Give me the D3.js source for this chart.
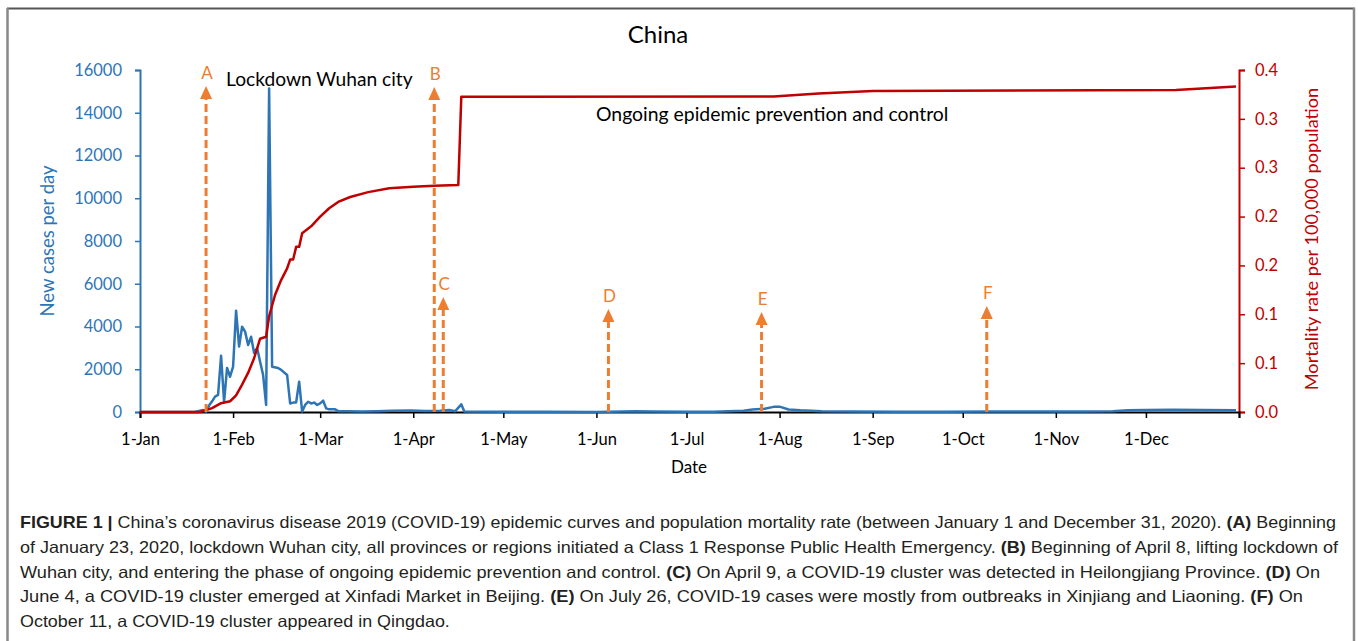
<!DOCTYPE html>
<html>
<head>
<meta charset="utf-8">
<script src="https://cdn.jsdelivr.net/npm/d3@7/dist/d3.min.js"></script>
<style>
  html, body { margin: 0; padding: 0; background: #fff; }
  svg { display: block; }
</style>
</head>
<body>
<svg id="chart" width="1358" height="641"></svg>
<script>
// ---------------- DATA ----------------
const title = "China";
const monthTicks = ["2020-01-01","2020-02-01","2020-03-01","2020-04-01","2020-05-01","2020-06-01",
                    "2020-07-01","2020-08-01","2020-09-01","2020-10-01","2020-11-01","2020-12-01"];
const monthLabels = ["1-Jan","1-Feb","1-Mar","1-Apr","1-May","1-Jun","1-Jul","1-Aug","1-Sep","1-Oct","1-Nov","1-Dec"];
const leftTicks = [0,2000,4000,6000,8000,10000,12000,14000,16000];
const rightTicks = [0,0.05,0.10,0.15,0.20,0.25,0.30,0.35];
const rightTickLabels = ["0.0","0.1","0.1","0.2","0.2","0.3","0.3","0.4"];

// New cases per day
const caseDates = ["2020-01-01","2020-01-19","2020-01-20","2020-01-21","2020-01-22","2020-01-23","2020-01-24","2020-01-25",
  "2020-01-26","2020-01-27","2020-01-28","2020-01-29","2020-01-30","2020-01-31","2020-02-01","2020-02-02","2020-02-03",
  "2020-02-04","2020-02-05","2020-02-06","2020-02-07","2020-02-08","2020-02-09","2020-02-10","2020-02-11","2020-02-12",
  "2020-02-13","2020-02-14","2020-02-16","2020-02-17","2020-02-19","2020-02-20","2020-02-21","2020-02-22","2020-02-23",
  "2020-02-24","2020-02-25","2020-02-26","2020-02-27","2020-02-28","2020-02-29","2020-03-01","2020-03-02","2020-03-03",
  "2020-03-04","2020-03-06","2020-03-07","2020-03-10","2020-03-15","2020-03-20","2020-03-25","2020-03-31","2020-04-05",
  "2020-04-10","2020-04-13","2020-04-15","2020-04-17","2020-04-18","2020-05-01","2020-05-15","2020-06-01","2020-06-14",
  "2020-06-20","2020-07-01","2020-07-10","2020-07-15","2020-07-20","2020-07-23","2020-07-27","2020-07-30","2020-08-01",
  "2020-08-04","2020-08-08","2020-08-15","2020-08-25","2020-09-10","2020-09-25","2020-10-10","2020-10-25","2020-11-10",
  "2020-11-20","2020-11-25","2020-12-01","2020-12-10","2020-12-20","2020-12-31"];
const caseValues = [0,0,30,60,90,20,300,500,
  720,800,2630,480,2060,1650,2120,4740,3060,
  3990,3760,3130,3520,2760,2990,2350,1730,330,
  15140,2120,2060,1970,1730,400,440,450,1420,
  20,330,480,400,440,330,400,530,170,
  125,125,40,30,20,40,60,70,50,
  60,90,40,360,20,10,10,5,40,
  25,10,15,30,60,120,150,240,250,
  120,80,40,20,10,15,20,25,20,
  40,80,90,100,90,80];

// Mortality rate per 100,000 population
const mortDates = ["2020-01-01","2020-01-21","2020-01-25","2020-01-28","2020-01-31","2020-02-02","2020-02-04","2020-02-06",
  "2020-02-08","2020-02-10","2020-02-12","2020-02-13","2020-02-15","2020-02-17","2020-02-19","2020-02-20","2020-02-21",
  "2020-02-22","2020-02-23","2020-02-24","2020-02-27","2020-03-01","2020-03-04","2020-03-07","2020-03-11","2020-03-17",
  "2020-03-24","2020-04-01","2020-04-08","2020-04-16","2020-04-17","2020-07-30","2020-08-14","2020-09-01","2020-12-11",
  "2020-12-31"];
const mortValues = [0,0,0.004,0.009,0.011,0.017,0.028,0.040,
  0.055,0.075,0.077,0.098,0.120,0.135,0.147,0.156,0.156,
  0.169,0.169,0.183,0.190,0.200,0.2085,0.215,0.220,0.225,
  0.229,0.2306,0.2316,0.2323,0.3225,0.3228,0.326,0.3285,0.3295,
  0.333];

// Event arrows
const eventLabels = ["A","B","C","D","E","F"];
const eventDates = ["2020-01-23","2020-04-08","2020-04-11","2020-06-05","2020-07-26","2020-10-09"];
const eventTops = [15250,15200,5380,4820,4680,4960]; // in new-cases units

const annotations = ["Lockdown Wuhan city","Ongoing epidemic prevention and control"];
const captionLines = [
  [["FIGURE 1 | ",true],["China’s coronavirus disease 2019 (COVID-19) epidemic curves and population mortality rate (between January 1 and December 31, 2020). ",false],["(A)",true],[" Beginning",false]],
  [["of January 23, 2020, lockdown Wuhan city, all provinces or regions initiated a Class 1 Response Public Health Emergency. ",false],["(B)",true],[" Beginning of April 8, lifting lockdown of",false]],
  [["Wuhan city, and entering the phase of ongoing epidemic prevention and control. ",false],["(C)",true],[" On April 9, a COVID-19 cluster was detected in Heilongjiang Province. ",false],["(D)",true],[" On",false]],
  [["June 4, a COVID-19 cluster emerged at Xinfadi Market in Beijing. ",false],["(E)",true],[" On July 26, COVID-19 cases were mostly from outbreaks in Xinjiang and Liaoning. ",false],["(F)",true],[" On",false]],
  [["October 11, a COVID-19 cluster appeared in Qingdao.",false]]
];
const captionWidths = [1316,1318,1300,1283,null];

// ---------------- DRAW ----------------
const svg = d3.select("#chart");
const parse = d3.utcParse("%Y-%m-%d");
const blue = "#2E75B6", red = "#C00000", orange = "#ED7D31";
const chartFont = "Lato, 'Open Sans', sans-serif";

const x = d3.scaleUtc().domain([parse("2020-01-01"), parse("2021-01-01")]).range([140, 1239]);
const yL = d3.scaleLinear().domain([0, 16000]).range([412, 70]);
const yR = d3.scaleLinear().domain([0, 0.35]).range([412, 70]);

// Frame
svg.append("line").attr("x1",7).attr("x2",1355).attr("y1",8.5).attr("y2",8.5).attr("stroke","#555").attr("stroke-width",2);
svg.append("line").attr("x1",7.5).attr("x2",7.5).attr("y1",8).attr("y2",641).attr("stroke","#888").attr("stroke-width",2.5);
svg.append("line").attr("x1",1354).attr("x2",1354).attr("y1",8).attr("y2",641).attr("stroke","#888").attr("stroke-width",2.5);

// Title
svg.append("text").attr("x",658).attr("y",43).attr("text-anchor","middle")
  .attr("font-family",chartFont).attr("font-size",24).attr("fill","#000").text(title);

// Left axis
const gL = svg.append("g").attr("transform","translate(140,0)")
  .call(d3.axisLeft(yL).tickValues(leftTicks).tickFormat(d3.format("d")).tickSize(5).tickPadding(13));
gL.select(".domain").attr("stroke",blue).attr("stroke-width",2);
gL.selectAll(".tick line").attr("stroke",blue).attr("stroke-width",1.5);
gL.selectAll(".tick text").attr("fill",blue).attr("font-family",chartFont).attr("font-size",16.5);

// Right axis
const gR = svg.append("g").attr("transform","translate(1239,0)")
  .call(d3.axisRight(yR).tickValues(rightTicks).tickFormat((d,i)=>rightTickLabels[i]).tickSize(6).tickPadding(10));
gR.select(".domain").attr("stroke",red).attr("stroke-width",2);
gR.selectAll(".tick line").attr("stroke",red).attr("stroke-width",1.5);
gR.selectAll(".tick text").attr("fill",red).attr("font-family",chartFont).attr("font-size",16.5);

// Bottom axis
const gB = svg.append("g").attr("transform","translate(0,412)")
  .call(d3.axisBottom(x).tickValues(monthTicks.map(parse).concat([parse("2021-01-01")]))
    .tickFormat((d,i)=> i < monthLabels.length ? monthLabels[i] : "").tickSize(6).tickPadding(15));
gB.select(".domain").attr("stroke","#000").attr("stroke-width",2);
gB.selectAll(".tick line").attr("stroke","#000").attr("stroke-width",1.5);
gB.selectAll(".tick text").attr("fill","#000").attr("font-family",chartFont).attr("font-size",16.5);

// Axis titles
svg.append("text").attr("transform","translate(54,241) rotate(-90)").attr("text-anchor","middle")
  .attr("font-family",chartFont).attr("font-size",18.5).attr("fill",blue).text("New cases per day");
svg.append("text").attr("transform","translate(1318,239) rotate(-90)").attr("text-anchor","middle")
  .attr("font-family",chartFont).attr("font-size",18.2).attr("fill",red).text("Mortality rate per 100,000 population");
svg.append("text").attr("x",689).attr("y",473).attr("text-anchor","middle")
  .attr("font-family",chartFont).attr("font-size",17).attr("fill","#000").text("Date");

// Lines
const casePts = caseDates.map((d,i)=>({date:parse(d), v:caseValues[i]}));
const mortPts = mortDates.map((d,i)=>({date:parse(d), v:mortValues[i]}));

svg.append("path").datum(casePts)
  .attr("d", d3.line().x(d=>x(d.date)).y(d=>yL(d.v)))
  .attr("fill","none").attr("stroke",blue).attr("stroke-width",2.5).attr("stroke-linejoin","round");
svg.append("path").datum(mortPts)
  .attr("d", d3.line().x(d=>x(d.date)).y(d=>yR(d.v)))
  .attr("fill","none").attr("stroke",red).attr("stroke-width",2.5).attr("stroke-linejoin","round");

// Arrows
const evts = eventLabels.map((l,i)=>({label:l, date:parse(eventDates[i]), top:eventTops[i]}));
const ga = svg.append("g");
evts.forEach(e=>{
  const ex = x(e.date), ty = yL(e.top);
  ga.append("line").attr("x1",ex).attr("x2",ex).attr("y1",yL(0)).attr("y2",ty+10)
    .attr("stroke",orange).attr("stroke-width",3).attr("stroke-dasharray","8,4");
  ga.append("path").attr("d",`M${ex-6},${ty+13}L${ex},${ty}L${ex+6},${ty+13}Z`).attr("fill",orange);
  ga.append("text").attr("x",ex+1).attr("y",ty-7).attr("text-anchor","middle")
    .attr("font-family",chartFont).attr("font-size",17).attr("fill",orange).text(e.label);
});

// Annotations
svg.append("text").attr("x",226).attr("y",86).attr("font-family",chartFont).attr("font-size",19.2)
  .attr("fill","#000").text(annotations[0]);
svg.append("text").attr("x",596).attr("y",121).attr("font-family",chartFont).attr("font-size",19.4)
  .attr("fill","#000").text(annotations[1]);

// Caption
const capFont = "'Liberation Sans Narrow', 'Liberation Sans', Arial, sans-serif";
let capFactor = 1;
captionLines.forEach((parts,i)=>{
  const t = svg.append("text").attr("x",20).attr("y",528 + i*24.8)
    .attr("font-family",capFont).attr("font-size",16.5).attr("fill","#231F20");
  parts.forEach(p=>{
    t.append("tspan").attr("font-weight",p[1]?"bold":"normal").text(p[0]);
  });
  const natural = t.node().getComputedTextLength();
  if (i === 0) capFactor = captionWidths[0] / natural;
  const w = captionWidths[i] != null ? captionWidths[i] : natural * capFactor;
  t.attr("textLength", w).attr("lengthAdjust","spacingAndGlyphs");
});
</script>
</body>
</html>
